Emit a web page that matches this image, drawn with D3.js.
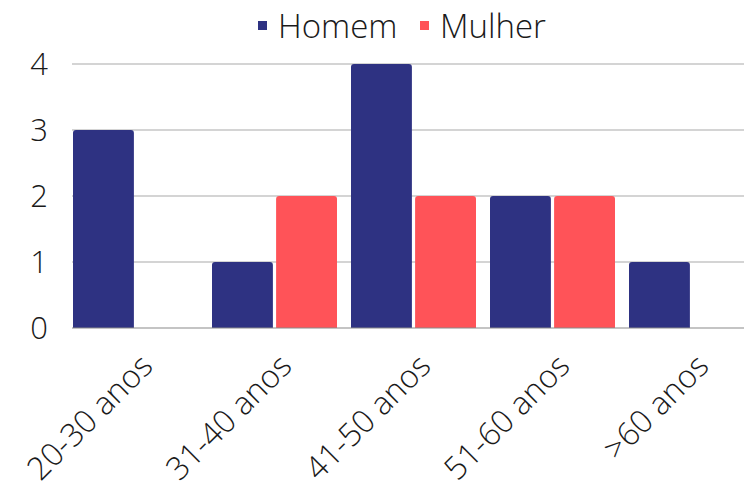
<!DOCTYPE html>
<html>
<head>
<meta charset="utf-8">
<script src="https://cdn.jsdelivr.net/npm/d3@7"></script>
<style>
  body { margin: 0; background: #fff; }
  text { font-family: "Open Sans", sans-serif; font-weight: 300; fill: #1a1a1a; }
</style>
</head>
<body>
<svg id="chart" width="744" height="486"></svg>
<script>
// dados
const faixas = ["20-30 anos", "31-40 anos", "41-50 anos", "51-60 anos", ">60 anos"];
const series = ["Homem", "Mulher"];
const homem = [3, 1, 4, 2, 1];
const mulher = [0, 2, 2, 2, 0];
const yTicks = [0, 1, 2, 3, 4];
const cores = ["#2e3282", "#ff5358"];

const svg = d3.select("#chart");
const W = 744, H = 486;
const x0 = 66, x1 = 761, yBase = 328, yTop = 64;

const x = d3.scaleBand().domain(faixas).range([x0, x1]).paddingInner(0).paddingOuter(0);
const xs = d3.scaleBand().domain(series).range([7, x.bandwidth() - 7]).paddingInner(0.05);
const y = d3.scaleLinear().domain([0, 4]).range([yBase, yTop]);
const cor = d3.scaleOrdinal().domain(series).range(cores);

// grade
svg.append("g").selectAll("line")
  .data(yTicks.filter(d => d > 0))
  .enter().append("line")
  .attr("x1", 72).attr("x2", W)
  .attr("y1", d => y(d)).attr("y2", d => y(d))
  .attr("stroke", "#c6c6c6").attr("stroke-width", 1.5);

// eixo y
const yAxis = svg.append("g")
  .attr("transform", "translate(48,0)")
  .call(d3.axisLeft(y).tickValues(yTicks).tickFormat(d3.format("d")).tickSize(0).tickPadding(0));
yAxis.select(".domain").remove();
yAxis.selectAll("text")
  .attr("x", 0)
  .style("font-size", "31px").attr("text-anchor", "end").attr("dy", "0.33em");

// barras
const dados = faixas.map((f, i) => ({ faixa: f, valores: [
  { s: "Homem", v: homem[i] }, { s: "Mulher", v: mulher[i] }
]}));

function barraArredondada(bx, by, bw, bh, r) {
  r = Math.min(r, bh);
  return `M${bx},${by + bh}V${by + r}Q${bx},${by} ${bx + r},${by}H${bx + bw - r}Q${bx + bw},${by} ${bx + bw},${by + r}V${by + bh}Z`;
}

const grupos = svg.append("g").selectAll("g")
  .data(dados).enter().append("g")
  .attr("transform", d => `translate(${x(d.faixa)},0)`);

grupos.selectAll("path")
  .data(d => d.valores.filter(v => v.v > 0))
  .enter().append("path")
  .attr("d", d => barraArredondada(xs(d.s), y(d.v), xs.bandwidth(), yBase - y(d.v), 3))
  .attr("fill", d => cor(d.s));

// linha do eixo x
svg.append("line")
  .attr("x1", 72).attr("x2", W)
  .attr("y1", yBase).attr("y2", yBase)
  .attr("stroke", "#8a8a8a").attr("stroke-width", 1.2);

// rótulos x
svg.append("g").selectAll("text")
  .data(faixas).enter().append("text")
  .attr("transform", d => `translate(${x(d) + x.bandwidth() / 2 + 19},${yBase + 40}) rotate(-45)`)
  .attr("text-anchor", "end")
  .style("font-size", "32px")
  .text(d => d);

// legenda
const leg = svg.append("g").attr("transform", "translate(0,38)");
const itens = [{ s: "Homem", x: 258 }, { s: "Mulher", x: 420 }];
const li = leg.selectAll("g").data(itens).enter().append("g")
  .attr("transform", d => `translate(${d.x},0)`);
li.append("rect").attr("x", 0).attr("y", -17).attr("width", 9).attr("height", 9)
  .attr("fill", d => cor(d.s));
li.append("text").attr("x", 20).attr("y", 0)
  .style("font-size", "33px").text(d => d.s);
</script>
</body>
</html>
